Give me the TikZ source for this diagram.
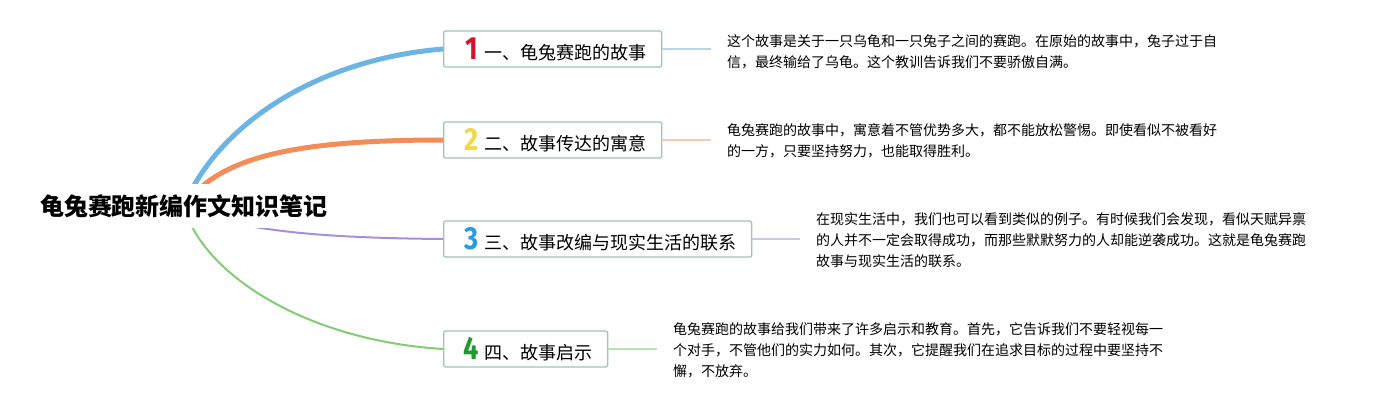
\documentclass[tikz,border=0pt]{standalone}
\usepackage{fontspec}
\setmainfont{Noto Sans CJK SC}
\newfontfamily\numfont{Fira Sans}
\definecolor{boxline}{HTML}{A3C2BA}
\definecolor{numred}{HTML}{D4142E}
\definecolor{numyellow}{HTML}{F2D846}
\definecolor{numblue}{HTML}{2A9BDF}
\definecolor{numgreen}{HTML}{1F9A2C}
\definecolor{brblue}{HTML}{6CB4E4}
\definecolor{brorange}{HTML}{F28C58}
\definecolor{brpurple}{HTML}{A88EE0}
\definecolor{brgreen}{HTML}{82CC74}
\definecolor{lnblue}{HTML}{B6D6EE}
\definecolor{lnorange}{HTML}{F4CBB4}
\definecolor{lnpurple}{HTML}{CFC4EE}
\definecolor{lngreen}{HTML}{BCE2B4}
\newcommand{\bignum}[2]{\scalebox{0.85}[1]{\color{#1}\numfont\bfseries\fontsize{32}{32}\selectfont #2}}

\begin{document}
\begin{tikzpicture}[x=1pt,y=-1pt,
  topic/.style={draw=boxline,line width=1.3pt,rounded corners=2pt,fill=white,
    minimum height=36pt,inner xsep=15pt,inner ysep=0pt,anchor=west,
    font=\fontsize{18}{18}\selectfont},
  note/.style={anchor=west,align=left,inner xsep=16pt,inner ysep=0pt,
    font=\fontsize{14}{21}\selectfont}]
        \useasboundingbox (0,0) rectangle (1377,410);
        \foreach \i/\y/\c/\t in {1/49/numred/一、龟兔赛跑的故事,
          2/140/numyellow/二、故事传达的寓意,
          3/239/numblue/三、故事改编与现实生活的联系,
          4/349/numgreen/四、故事启示} {
          \node[topic] (b\i) at (443,\y) {\makebox[26pt]{\bignum{\c}{\i}}\t};
        }
        \coordinate (hub) at (184,206);
        \draw[brblue,line width=5pt] (hub) .. controls (215,130) and (310,60) .. (b1.west);
        \draw[brorange,line width=5pt] (hub) .. controls (218,158) and (290,140) .. (b2.west);
        \draw[brpurple,line width=2pt] (hub) .. controls (235,232) and (330,238) .. (b3.west);
        \draw[brgreen,line width=2pt] (hub) .. controls (200,270) and (300,340) .. (b4.west);
        \node[fill=white,minimum height=44pt,inner xsep=12pt,
          font=\bfseries\fontsize{24}{24}\selectfont] (root) at (hub) {龟兔赛跑新编作文知识笔记};
        \foreach \i/\x/\y/\c/\t in {%
          1/711/52/lnblue/{这个故事是关于一只乌龟和一只兔子之间的赛跑。在原始的故事中，兔子过于自\\信，最终输给了乌龟。这个教训告诉我们不要骄傲自满。},
          2/711/141/lnorange/{龟兔赛跑的故事中，寓意着不管优势多大，都不能放松警惕。即使看似不被看好\\的一方，只要坚持努力，也能取得胜利。},
          3/800/240/lnpurple/{在现实生活中，我们也可以看到类似的例子。有时候我们会发现，看似天赋异禀\\的人并不一定会取得成功，而那些默默努力的人却能逆袭成功。这就是龟兔赛跑\\故事与现实生活的联系。},
          4/657/350/lngreen/{龟兔赛跑的故事给我们带来了许多启示和教育。首先，它告诉我们不要轻视每一\\个对手，不管他们的实力如何。其次，它提醒我们在追求目标的过程中要坚持不\\懈，不放弃。}} {
            \node[note] (d\i) at (\x,\y) {\t};
            \draw[\c,line width=1.5pt] (b\i.east) -- (d\i.west |- b\i.east);
        }
\end{tikzpicture}
\end{document}
